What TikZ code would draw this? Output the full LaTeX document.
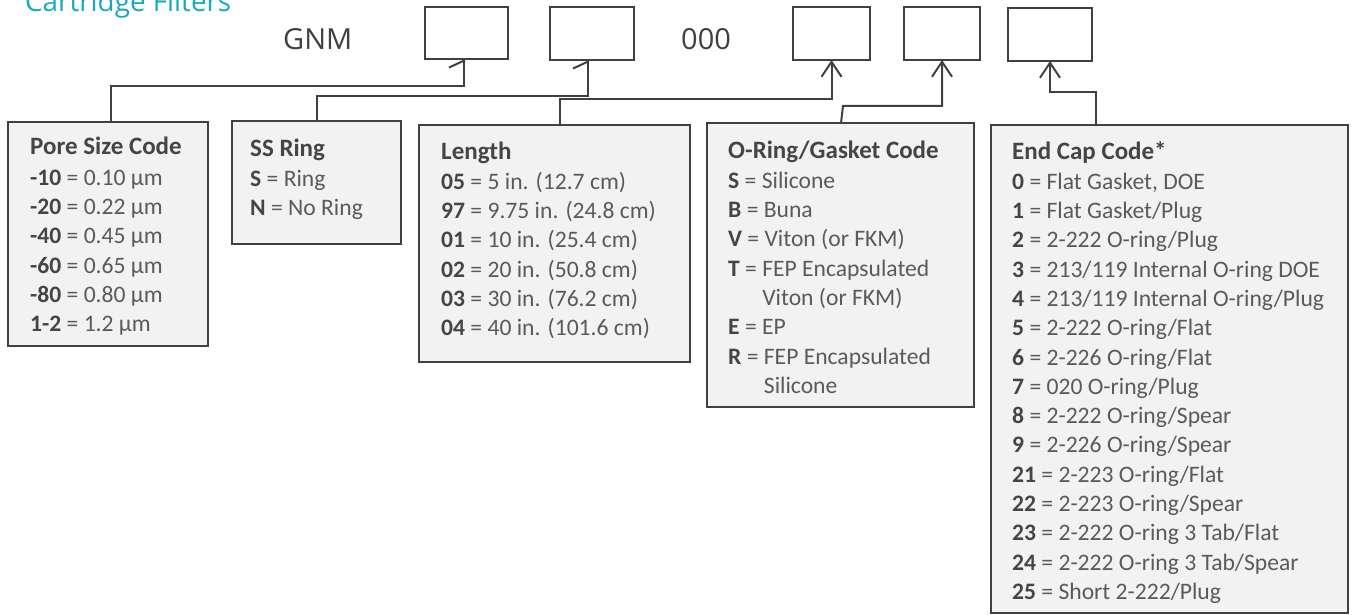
\documentclass[tikz,border=0pt]{standalone}
\usepackage{fontspec}
\setmainfont{Carlito}
\newfontfamily\titlefont{Open Sans}
\usetikzlibrary{arrows.meta}
\definecolor{edgegray}{HTML}{404040}
\definecolor{boxfill}{HTML}{F2F2F2}
\definecolor{txtgray}{HTML}{5A5A5A}
\definecolor{keygray}{HTML}{454545}
\definecolor{titleteal}{HTML}{19A9BF}
\newcommand\K[1]{\textbf{\color{keygray}#1}}
\newcommand\Hd[1]{{\fontsize{25}{29.3}\selectfont\textbf{\color{keygray}#1}}}
\newcommand\boxtext[2]{\parbox[t]{#1}{\leavevmode\fontsize{23.6}{29.3}\selectfont\color{txtgray}#2}}
\begin{document}
\begin{tikzpicture}[x=1pt,y=-1pt,
  slotbox/.style={draw=edgegray, line width=2pt, fill=white, inner sep=0pt, outer sep=0pt, anchor=north west},
  codebox/.style={draw=edgegray, line width=2pt, fill=boxfill, inner sep=0pt, outer sep=0pt, anchor=north west},
  codetext/.style={inner sep=0pt, anchor=base west},
  conn/.style={draw=edgegray, line width=2pt},
  fullarrow/.style={-{Straight Barb[length=15pt,width=20pt]}},
  halfarrow/.style={-{Straight Barb[left,length=7pt,width=30pt]}},
  bigtext/.style={inner sep=0pt, anchor=base west, font=\titlefont\fontsize{29}{34}\selectfont, text=edgegray}
]
\useasboundingbox (0,0) rectangle (1353,615);

% title
\node[inner sep=0pt, anchor=base west, font=\titlefont\fontsize{27.8}{32}\selectfont, text=titleteal] (title) at (25,12) {Cartridge Filters};

% part number
\node[bigtext] (gnm) at (283,50) {GNM};
\node[bigtext] (zeros) at (681,50) {000};

% top slots
\node[slotbox, minimum width=83pt, minimum height=52pt] (b1) at (425,7) {};
\node[slotbox, minimum width=84pt, minimum height=53pt] (b2) at (550,7) {};
\node[slotbox, minimum width=77pt, minimum height=53pt] (b3) at (793,7) {};
\node[slotbox, minimum width=76pt, minimum height=53pt] (b4) at (904,7) {};
\node[slotbox, minimum width=84pt, minimum height=53pt] (b5) at (1008,8) {};

% code boxes
\node[codebox, minimum width=200pt, minimum height=224pt] (pore) at (8,122) {};
\node[codebox, minimum width=169pt, minimum height=123pt] (ss) at (232,121) {};
\node[codebox, minimum width=271pt, minimum height=237pt] (len) at (419,125) {};
\node[codebox, minimum width=267pt, minimum height=284pt] (oring) at (707,123) {};
\node[codebox, minimum width=357pt, minimum height=488pt] (endcap) at (991,125) {};

% texts
\node[codetext] (poretext) at (30,155) {\boxtext{170pt}{%
\Hd{Pore Size Code}\\[1pt]
\K{-10} = 0.10 µm\\
\K{-20} = 0.22 µm\\
\K{-40} = 0.45 µm\\
\K{-60} = 0.65 µm\\
\K{-80} = 0.80 µm\\
\K{1-2} = 1.2 µm}};

\node[codetext] (sstext) at (250,157) {\boxtext{145pt}{%
\Hd{SS Ring}\\
\K{S} = Ring\\
\K{N} = No Ring}};

\node[codetext] (lentext) at (441,160) {\boxtext{245pt}{%
\Hd{Length}\\
\K{05} = 5 in. (12.7 cm)\\
\K{97} = 9.75 in. (24.8 cm)\\
\K{01} = 10 in. (25.4 cm)\\
\K{02} = 20 in. (50.8 cm)\\
\K{03} = 30 in. (76.2 cm)\\
\K{04} = 40 in. (101.6 cm)}};

\node[codetext] (oringtext) at (728,159) {\boxtext{240pt}{%
\Hd{O-Ring/Gasket Code}\\
\K{S} = Silicone\\
\K{B} = Buna\\
\K{V} = Viton (or FKM)\\
\K{T} = FEP Encapsulated\\
\hphantom{\K{T} = }Viton (or FKM)\\
\K{E} = EP\\
\K{R} = FEP Encapsulated\\
\hphantom{\K{R} = }Silicone}};

\node[codetext] (endcaptext) at (1012,160) {\boxtext{330pt}{%
\Hd{End Cap Code*}\\
\K{0} = Flat Gasket, DOE\\
\K{1} = Flat Gasket/Plug\\
\K{2} = 2-222 O-ring/Plug\\
\K{3} = 213/119 Internal O-ring DOE\\
\K{4} = 213/119 Internal O-ring/Plug\\
\K{5} = 2-222 O-ring/Flat\\
\K{6} = 2-226 O-ring/Flat\\
\K{7} = 020 O-ring/Plug\\
\K{8} = 2-222 O-ring/Spear\\
\K{9} = 2-226 O-ring/Spear\\
\K{21} = 2-223 O-ring/Flat\\
\K{22} = 2-223 O-ring/Spear\\
\K{23} = 2-222 O-ring 3 Tab/Flat\\
\K{24} = 2-222 O-ring 3 Tab/Spear\\
\K{25} = Short 2-222/Plug}};

% connectors
\draw[conn, halfarrow] ([xshift=103pt]pore.north west) |- ([xshift=-2.5pt,yshift=-27pt]b1.south) -- ([xshift=-2.5pt]b1.south);
\draw[conn, halfarrow] ([xshift=85pt]ss.north west) |- ([xshift=-4pt,yshift=-36pt]b2.south) -- ([xshift=-4pt]b2.south);
\draw[conn, fullarrow] ([xshift=141pt]len.north west) |- ([yshift=-39pt]b3.south) -- (b3.south);
\draw[conn, fullarrow] ([xshift=134pt]oring.north west) -- ([xshift=136pt,yshift=17pt]oring.north west) -| (b4.south);
\draw[conn, fullarrow] ([xshift=105pt]endcap.north west) |- ([yshift=-31pt]b5.south) -- (b5.south);
\end{tikzpicture}
\end{document}
